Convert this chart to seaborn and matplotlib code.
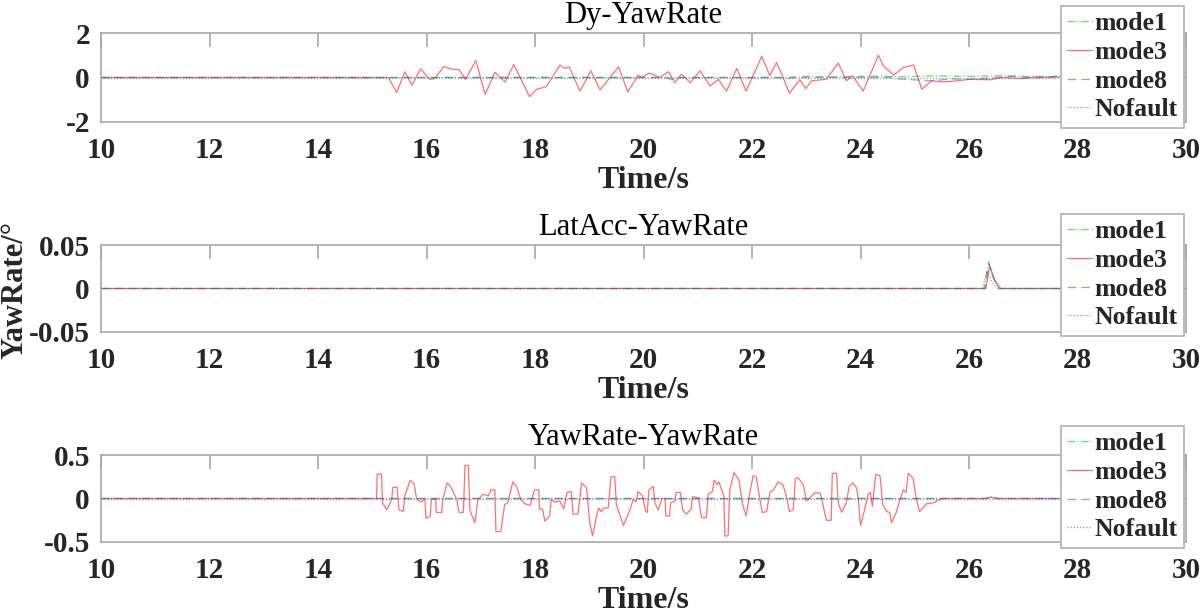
import matplotlib
matplotlib.use("Agg")
import matplotlib.pyplot as plt
import seaborn as sns

# ---- data ----
x_ticks = [10, 12, 14, 16, 18, 20, 22, 24, 26, 28, 30]
series_names = ["mode1", "mode3", "mode8", "Nofault"]

# panel 1: Dy-YawRate
dy_mode3_t = [10, 15.30, 15.45, 15.60, 15.73, 15.89, 16.06, 16.15, 16.32, 16.46, 16.60, 16.72,
              16.91, 17.08, 17.26, 17.45, 17.61, 17.90, 18.03, 18.21, 18.46, 18.55, 18.63,
              18.83, 19.03, 19.20, 19.54, 19.71, 19.90, 19.96, 20.11, 20.30, 20.46, 20.58,
              20.70, 20.86, 21.04, 21.23, 21.38, 21.53, 21.72, 21.89, 22.18, 22.33, 22.45,
              22.55, 22.69, 22.88, 22.99, 23.10, 23.37, 23.59, 23.74, 23.85, 24.05, 24.33,
              24.42, 24.61, 24.79, 24.98, 25.13, 25.31, 25.53, 25.77, 26.02, 26.39, 26.63,
              27.00, 27.25, 27.50, 27.80, 28.20, 28.60, 29.00, 29.50, 30]
dy_mode3_v = [0, 0, -0.68, 0.26, -0.35, 0.38, -0.08, -0.05, 0.50, 0.38, 0.35, -0.08,
              0.76, -0.76, 0.23, -0.20, 0.58, -0.86, -0.53, -0.41, 0.56, 0.41, 0.47,
              -0.61, 0.30, -0.56, 0.48, -0.65, 0.11, 0.0, 0.20, 0.0, 0.26, -0.23,
              0.15, -0.23, 0.30, -0.38, -0.08, -0.61, 0.41, -0.61, 0.95, 0.08, 0.68,
              0.15, -0.71, -0.10, -0.50, -0.15, -0.08, 0.65, -0.15, 0.08, -0.61, 1.00,
              0.53, 0.11, 0.45, 0.56, -0.53, -0.15, -0.20, -0.15, -0.08, -0.10, 0.0,
              -0.05, 0.03, 0.0, 0.04, -0.03, 0.02, 0.0, 0.0, 0.0]
dy_mode1_t = [10, 22.60, 23.00, 23.60, 24.20, 24.80, 25.40, 26.00, 26.60, 27.20, 27.80, 28.40, 30]
dy_mode1_v = [0, 0, 0.05, 0.03, 0.06, 0.04, 0.07, 0.05, 0.08, 0.04, 0.06, 0.02, 0]
dy_mode8_t = [10, 20.40, 20.52, 20.62, 22.50, 22.65, 22.75, 24.55, 24.65, 25.25, 25.45,
              25.65, 26.00, 26.40, 26.80, 27.20, 27.60, 28.00, 28.40, 30]
dy_mode8_v = [0, 0, -0.10, 0, 0, -0.06, 0, 0, -0.05, -0.15, -0.12, -0.06, -0.08, -0.02,
              0.06, -0.03, 0.05, -0.02, 0.03, 0]
dy_nofault_t = [10, 30]
dy_nofault_v = [0, 0]

# panel 2: LatAcc-YawRate
la_mode1_t = [10, 26.28, 26.36, 26.45, 26.55, 30]
la_mode1_v = [0, 0, 0.031, 0.012, 0, 0]
la_mode3_t = [10, 26.31, 26.38, 26.47, 26.58, 30]
la_mode3_v = [0, 0, 0.026, 0.010, 0, 0]
la_mode8_t = [10, 26.30, 26.37, 26.46, 26.56, 30]
la_mode8_v = [0, 0, 0.028, 0.011, 0, 0]
la_nofault_t = [10, 26.25, 26.33, 26.42, 26.52, 30]
la_nofault_v = [0, 0, 0.020, 0.008, 0, 0]

# panel 3: YawRate-YawRate
yr_mode3_t = [10, 15.08, 15.09, 15.17, 15.19, 15.27, 15.36, 15.38, 15.46, 15.49, 15.57, 15.60,
              15.70, 15.77, 15.82, 15.91, 15.97, 15.99, 16.07, 16.09, 16.17, 16.18, 16.28,
              16.30, 16.38, 16.44, 16.56, 16.60, 16.68, 16.71, 16.77, 16.80, 16.89, 16.95,
              17.05, 17.14, 17.19, 17.26, 17.28, 17.37, 17.44, 17.50, 17.59, 17.66, 17.73,
              17.81, 17.91, 17.99, 18.07, 18.08, 18.14, 18.18, 18.27, 18.30, 18.36, 18.46,
              18.53, 18.59, 18.67, 18.70, 18.79, 18.86, 18.95, 19.01, 19.06, 19.14, 19.18,
              19.22, 19.27, 19.35, 19.40, 19.47, 19.50, 19.63, 19.75, 19.81, 19.86, 19.90,
              19.98, 20.04, 20.07, 20.10, 20.18, 20.21, 20.27, 20.34, 20.40, 20.41, 20.48,
              20.50, 20.58, 20.60, 20.68, 20.72, 20.79, 20.88, 20.90, 21.01, 21.07, 21.16,
              21.19, 21.27, 21.30, 21.36, 21.39, 21.48, 21.50, 21.56, 21.59, 21.67, 21.76,
              21.82, 21.89, 21.95, 22.02, 22.08, 22.14, 22.19, 22.27, 22.33, 22.40, 22.48,
              22.57, 22.64, 22.69, 22.76, 22.80, 22.85, 22.95, 23.00, 23.06, 23.16, 23.26,
              23.30, 23.37, 23.46, 23.48, 23.56, 23.59, 23.65, 23.74, 23.79, 23.86, 23.93,
              23.96, 24.00, 24.08, 24.14, 24.18, 24.22, 24.28, 24.36, 24.41, 24.48, 24.54,
              24.57, 24.66, 24.73, 24.79, 24.84, 24.88, 24.97, 25.03, 25.09, 25.22, 25.34,
              25.43, 25.52, 26.30, 26.40, 26.50, 30]
yr_mode3_v = [0, 0, 0.28, 0.28, -0.05, -0.13, -0.01, 0.13, 0.13, -0.13, -0.15, 0.03,
              0.21, 0.17, -0.01, -0.04, 0, -0.23, -0.20, -0.01, -0.01, -0.16, -0.16,
              -0.01, 0.18, 0.14, -0.01, -0.16, -0.16, 0.38, 0.38, -0.13, -0.28, -0.01,
              0.05, 0.03, 0.10, 0.10, -0.38, -0.38, -0.07, -0.05, 0.19, 0.14, 0,
              -0.06, -0.08, 0.10, 0.10, -0.12, -0.12, -0.26, -0.20, -0.01, -0.04, -0.03,
              -0.12, 0.07, 0.08, -0.18, -0.18, 0.18, 0.12, -0.28, -0.43, -0.18, -0.11,
              -0.15, -0.11, -0.11, 0.25, 0.25, -0.07, -0.31, -0.13, -0.01, -0.04, 0.08,
              0.03, -0.15, -0.16, 0.10, 0.14, -0.05, -0.13, 0, 0, -0.20, -0.20,
              -0.05, -0.03, 0.07, 0.07, -0.13, -0.18, -0.12, 0.02, 0.01, -0.22, -0.22,
              0.05, 0.08, 0.21, 0.16, 0.19, 0.03, -0.43, -0.43, 0.10, 0.30, 0.21,
              -0.05, -0.20, 0.03, 0.26, 0.25, 0.01, -0.16, -0.15, 0.07, 0.10, 0.19,
              0.16, 0.01, -0.15, -0.13, 0.23, 0.24, 0.15, -0.03, 0, 0.07, 0.06,
              -0.05, -0.25, -0.25, 0.29, 0.29, -0.05, -0.16, -0.05, 0.14, 0.18, 0.12,
              -0.01, -0.31, -0.12, 0.05, 0.07, -0.09, 0.28, 0.26, -0.07, -0.15, -0.16,
              -0.28, -0.16, -0.01, 0.10, 0.07, 0.29, 0.23, -0.01, -0.15, -0.06, -0.05,
              -0.02, 0, 0, 0.015, 0, 0]
yr_mode1_t = [10, 26.32, 26.40, 26.50, 30]
yr_mode1_v = [0, 0, 0.02, 0, 0]
yr_mode8_t = [10, 26.34, 26.42, 26.52, 30]
yr_mode8_v = [0, 0, 0.025, 0, 0]
yr_nofault_t = [10, 30]
yr_nofault_v = [0, 0]

titles = ["Dy-YawRate", "LatAcc-YawRate", "YawRate-YawRate"]
y_ticks = [[-2, 0, 2], [-0.05, 0, 0.05], [-0.5, 0, 0.5]]
y_tick_labels = [["-2", "0", "2"], ["-0.05", "0", "0.05"], ["-0.5", "0", "0.5"]]

panels = [
    [(dy_mode1_t, dy_mode1_v), (dy_mode3_t, dy_mode3_v), (dy_mode8_t, dy_mode8_v), (dy_nofault_t, dy_nofault_v)],
    [(la_mode1_t, la_mode1_v), (la_mode3_t, la_mode3_v), (la_mode8_t, la_mode8_v), (la_nofault_t, la_nofault_v)],
    [(yr_mode1_t, yr_mode1_v), (yr_mode3_t, yr_mode3_v), (yr_mode8_t, yr_mode8_v), (yr_nofault_t, yr_nofault_v)],
]

# ---- style ----
sns.set_style("white")
plt.rcParams['font.family'] = ['Liberation Serif', 'DejaVu Serif']
plt.rcParams['axes.unicode_minus'] = False

line_styles = {
    "mode1": dict(color="#22dd22", linestyle=(0, (6, 2, 1, 2)), alpha=0.75),
    "mode3": dict(color="#ff3333", linestyle="-", alpha=0.7),
    "mode8": dict(color="#5555ff", linestyle=(0, (7, 4)), alpha=0.6),
    "Nofault": dict(color="#555555", linestyle=(0, (1, 1.5)), alpha=0.6),
}

fig = plt.figure(figsize=(12, 6.15), dpi=100)
left, width = 101 / 1200, 1085 / 1200
axes_rects = [
    (left, 1 - 122 / 615, width, 89 / 615),
    (left, 1 - 332 / 615, width, 87 / 615),
    (left, 1 - 542 / 615, width, 87 / 615),
]
legend_tops = [1 - 6 / 615, 1 - 214 / 615, 1 - 426 / 615]

spine_col = "#a8a8a8"
text_col = "#262626"

for i, rect in enumerate(axes_rects):
    ax = fig.add_axes(rect)
    for name, (t, v) in zip(series_names, panels[i]):
        sns.lineplot(x=t, y=v, ax=ax, estimator=None, sort=False, lw=0.9,
                     label=name, **line_styles[name])
    ax.set_xlim(10, 30)
    ax.set_ylim(y_ticks[i][0], y_ticks[i][-1])
    ax.set_xticks(x_ticks)
    ax.set_xticklabels([str(x) for x in x_ticks])
    ax.set_yticks(y_ticks[i])
    ax.set_yticklabels(y_tick_labels[i])
    ax.tick_params(axis="both", direction="in", length=10, width=1.2, color=spine_col,
                   labelsize=21, labelcolor=text_col, pad=11, top=True, right=False)
    ax.tick_params(axis="y", length=0, pad=8)
    for lab in ax.get_xticklabels() + ax.get_yticklabels():
        lab.set_fontweight("bold")
    for sp in ax.spines.values():
        sp.set_color(spine_col)
        sp.set_linewidth(1.2)
    ax.set_title(titles[i], fontsize=22, color="black", pad=7)
    ax.set_xlabel("Time/s", fontsize=23, fontweight="bold", color=text_col, labelpad=1)
    ax.set_ylabel("")
    leg = ax.legend(loc="upper right", bbox_to_anchor=(1184 / 1200, legend_tops[i]),
                    bbox_transform=fig.transFigure, prop={"size": 18.5, "weight": "bold"},
                    frameon=True, fancybox=False, handlelength=0.95, handletextpad=0.1,
                    labelspacing=0.22, borderpad=0.25, borderaxespad=0)
    leg.get_frame().set_edgecolor("#b0b0b0")
    leg.get_frame().set_linewidth(1.2)
    leg.get_frame().set_alpha(1)

fig.text(15 / 1200, 1 - 290 / 615, "YawRate/°", rotation=90, ha="center", va="center",
         fontsize=22, fontweight="bold", color=text_col)

fig.savefig("out.png", dpi=100)
